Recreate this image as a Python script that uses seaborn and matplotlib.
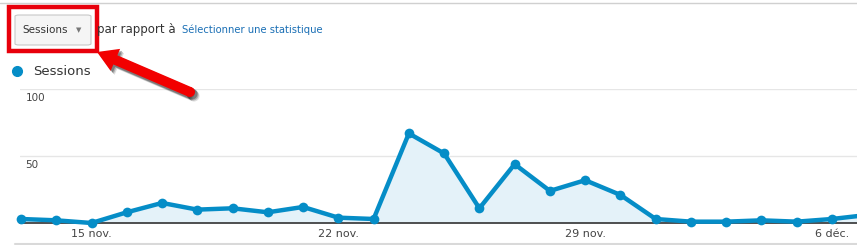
import matplotlib
matplotlib.use("Agg")
import numpy as np
import matplotlib.pyplot as plt
import seaborn as sns
import pandas as pd
from matplotlib.patches import Rectangle, FancyBboxPatch, Polygon, Circle
from matplotlib.lines import Line2D

# ---- data ----
dates = ["13 nov.", "14 nov.", "15 nov.", "16 nov.", "17 nov.", "18 nov.", "19 nov.",
         "20 nov.", "21 nov.", "22 nov.", "23 nov.", "24 nov.", "25 nov.", "26 nov.",
         "27 nov.", "28 nov.", "29 nov.", "30 nov.", "1 déc.", "2 déc.", "3 déc.",
         "4 déc.", "5 déc.", "6 déc.", "7 déc."]
sessions = [3, 2, 0, 8, 15, 10, 11, 8, 12, 4, 3, 67, 52, 11, 44, 24, 32, 21,
            3, 1, 1, 2, 1, 3, 6]
xtick_labels = ["15 nov.", "22 nov.", "29 nov.", "6 déc."]
ytick_values = [50, 100]
ytick_labels = ["50", "100"]

df = pd.DataFrame({"pos": range(len(dates)), "date": dates, "sessions": sessions})

sns.set_theme(style="white")
plt.rcParams["font.family"] = ["DejaVu Sans"]

W, H = 857, 245
fig = plt.figure(figsize=(W / 100, H / 100), dpi=100)

LINE = "#058dc7"
FILL = "#e4f2f9"

# axes placement in pixels
x0, x1 = 20, 857
y_base, y_top = 223, 89.3
ax = fig.add_axes([x0 / W, (H - y_base) / H, (x1 - x0) / W, (y_base - y_top) / H])
ax.set_facecolor("none")

spacing = 35.26
ax.set_xlim(-(21 - x0) / spacing, (x1 - 21) / spacing)
ax.set_ylim(0, 100)

# gridlines
for v in ytick_values:
    ax.axhline(v, color="#e6e6e6", lw=1, zorder=0)

ax.fill_between(df["pos"], df["sessions"], 0, color=FILL, zorder=1, lw=0)
ax.axhline(0, color="#333333", lw=1.2, zorder=2, clip_on=False)
sns.lineplot(data=df, x="pos", y="sessions", ax=ax, color=LINE, lw=3.2,
             marker="o", markersize=7, markeredgecolor=LINE, markeredgewidth=0,
             zorder=3, clip_on=False, legend=False)

for s in ax.spines.values():
    s.set_visible(False)

tick_pos = [dates.index(t) for t in xtick_labels]
ax.set_xticks(tick_pos)
ax.set_xticklabels(xtick_labels, color="#444444", fontsize=8)
ax.tick_params(axis="x", length=0, pad=4)
ax.set_yticks([])
ax.set_xlabel("")
ax.set_ylabel("")

for v, lab in zip(ytick_values, ytick_labels):
    ax.annotate(lab, xy=(0, v), xycoords=("axes fraction", "data"),
                xytext=(4, -3), textcoords="offset points",
                ha="left", va="top", fontsize=7.5, color="#444444")

# ---- header elements (figure pixel coords) ----
def fx(px):
    return px / W

def fy(py):
    return (H - py) / H

# top separator line and bottom line
fig.add_artist(Line2D([0, 1], [fy(3), fy(3)], color="#d0d0d0", lw=1))
fig.add_artist(Line2D([fx(15), 1], [fy(244), fy(244)], color="#d9d9d9", lw=1.5))

# dropdown button
fig.add_artist(FancyBboxPatch((fx(15), fy(45)), fx(91) - fx(15), fy(15) - fy(45),
                              boxstyle="round,pad=0,rounding_size=0.005",
                              facecolor="#f5f5f5", edgecolor="#c8c8c8", lw=0.8))
fig.text(fx(22), fy(30), "Sessions", fontsize=7.5, color="#333333", va="center", ha="left")
fig.text(fx(79), fy(30), "▼", fontsize=5, color="#777777", va="center", ha="center")
# red highlight box
fig.add_artist(Rectangle((fx(9), fy(51)), fx(97) - fx(9), fy(7) - fy(51),
                         fill=False, edgecolor="#e8000b", lw=3.2))

fig.text(fx(97), fy(29), "par rapport à", fontsize=8.5, color="#333333", va="center", ha="left")
fig.text(fx(182), fy(30), "Sélectionner une statistique", fontsize=7.2, color="#1a6fb5",
         va="center", ha="left")

# legend
fig.add_artist(Line2D([fx(17)], [fy(71)], marker="o", markersize=7, color=LINE, lw=0))
fig.text(fx(33), fy(71), "Sessions", fontsize=9.5, color="#333333", va="center", ha="left")

# red arrow with shadow, built in pixel space
def arrow_shape(tip, tail, head_len=20, head_half=12, shaft_half=5):
    T = np.array(tip, float)
    C = np.array(tail, float)
    d = T - C
    u = d / np.hypot(*d)
    n = np.array([-u[1], u[0]])
    B = T - head_len * u
    pts = [T, B + head_half * n, B + shaft_half * n, C + shaft_half * n,
           C - shaft_half * n, B - shaft_half * n, B - head_half * n]
    return pts, C, shaft_half

def to_fig(p):
    return (fx(p[0]), fy(p[1]))

shadow_layers = [(4, 4, 0.15), (3, 3, 0.25), (2, 2, 0.35)]
for dx, dy, a in shadow_layers:
    pts, C, r = arrow_shape((97 + dx, 52 + dy), (190 + dx, 92 + dy), shaft_half=5.5)
    fig.add_artist(Polygon([to_fig(p) for p in pts], closed=True, facecolor="#202020",
                           alpha=a, lw=0, zorder=5))
    fig.add_artist(Circle((0, 0), 1, visible=False))
    cx, cy = to_fig(C)
    fig.add_artist(matplotlib.patches.Ellipse((cx, cy), 2 * r / W, 2 * r / H,
                                              facecolor="#202020", alpha=a, lw=0, zorder=5))

pts, C, r = arrow_shape((97, 52), (190, 92))
fig.add_artist(Polygon([to_fig(p) for p in pts], closed=True, facecolor="#f20000",
                       lw=0, zorder=6))
cx, cy = to_fig(C)
fig.add_artist(matplotlib.patches.Ellipse((cx, cy), 2 * r / W, 2 * r / H,
                                          facecolor="#f20000", lw=0, zorder=6))

fig.savefig("out.png", dpi=100)
